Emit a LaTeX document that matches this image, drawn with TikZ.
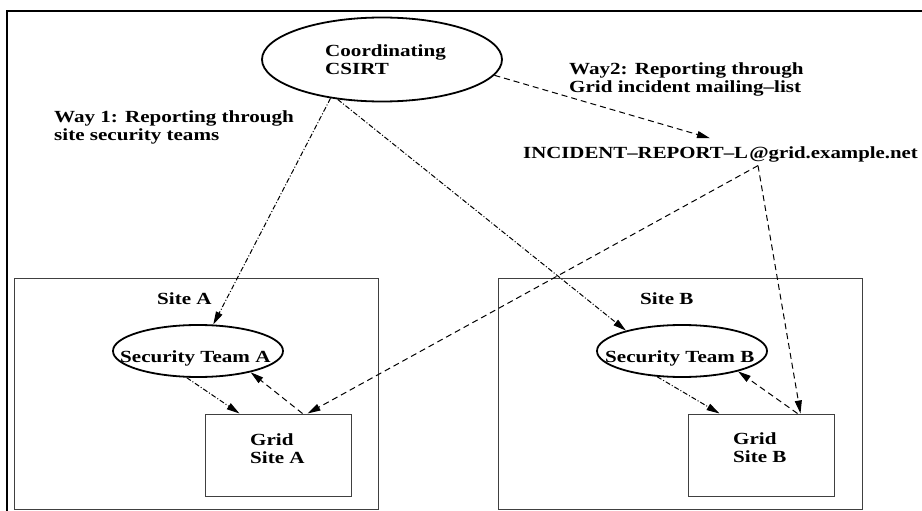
\documentclass[tikz,border=0pt]{standalone}
\usepackage{fontspec}
\setmainfont{Liberation Serif}
\usepackage{graphicx}
\usetikzlibrary{arrows.meta,shapes.geometric}
\newcommand{\lbl}[1]{\scalebox{1.24}[1]{\begin{tabular}[t]{@{}l@{}}#1\end{tabular}}}
\begin{document}
\begin{tikzpicture}[x=1pt,y=-1pt,
  txt/.style={font=\bfseries\fontsize{17}{18}\selectfont, inner sep=0pt, anchor=base west},
  oval/.style={ellipse, draw, line width=1.8pt, inner sep=0pt},
  sitebox/.style={draw=black!75, line width=1pt, inner sep=0pt},
  tip/.style={-{Triangle[length=13pt,width=7pt]}},
  dashdot/.style={tip, line width=1pt, dash pattern=on 5pt off 2pt on 1pt off 2pt},
  dsh/.style={tip, line width=1pt, dash pattern=on 6pt off 4pt}]

\useasboundingbox (0,0) rectangle (922,511);
\draw[line width=1.3pt] (7,520) -- (7,11) -- (930,11);

% shapes
\node[oval, minimum width=240pt, minimum height=84pt] (csirt) at (382,59.5) {};
\node[sitebox, minimum width=364pt, minimum height=231pt] (siteA) at (196,393.5) {};
\node[sitebox, minimum width=364pt, minimum height=231pt] (siteB) at (680,393.5) {};
\node[oval, minimum width=170pt, minimum height=52pt] (teamA) at (198,351) {};
\node[oval, minimum width=170pt, minimum height=52pt] (teamB) at (682,351) {};
\node[sitebox, minimum width=146pt, minimum height=82pt] (gridA) at (278,455) {};
\node[sitebox, minimum width=146pt, minimum height=82pt] (gridB) at (761,455) {};

% texts
\node[txt] (csirtT) at (325,57) {\lbl{Coordinating\\CSIRT}};
\node[txt] (way1) at (54,122.5) {\lbl{Way 1: Reporting through\\site security teams}};
\node[txt] (way2) at (569,75) {\lbl{Way2: Reporting through\\Grid incident mailing--list}};
\node[txt] (incident) at (523,158) {\scalebox{1.225}[1]{\begin{tabular}[t]{@{}l@{}}INCIDENT--REPORT--L\kern1pt@grid.example.net\end{tabular}}};
\node[txt] (siteAT) at (157,304) {\lbl{Site A}};
\node[txt] (siteBT) at (640,304) {\lbl{Site B}};
\node[txt] (teamAT) at (120,362) {\lbl{Security Team A}};
\node[txt] (teamBT) at (605,362) {\lbl{Security Team B}};
\node[txt] (gridAT) at (250,445) {\lbl{Grid\\Site A}};
\node[txt] (gridBT) at (733,444) {\lbl{Grid\\Site B}};

% connectors
\draw[dashdot] (csirt.217) -- (teamA.60);
\draw[dashdot] (csirt.222) -- (teamB.160);
\draw[dsh] (csirt.352) -- ([xshift=187pt,yshift=7pt]incident.north west);
\draw[dsh] ([xshift=235pt,yshift=-2pt]incident.south west) -- ([xshift=103pt]gridA.north west);
\draw[dsh] ([xshift=235pt,yshift=-2pt]incident.south west) -- ([xshift=113pt]gridB.north west);
\draw[dashdot] (teamA.247) -- ([xshift=35pt]gridA.north west);
\draw[dsh] ([xshift=98pt]gridA.north west) -- (teamA.338);
\draw[dashdot] (teamB.226) -- ([xshift=32pt]gridB.north west);
\draw[dsh] ([xshift=110pt]gridB.north west) -- (teamB.340);
\end{tikzpicture}
\end{document}
